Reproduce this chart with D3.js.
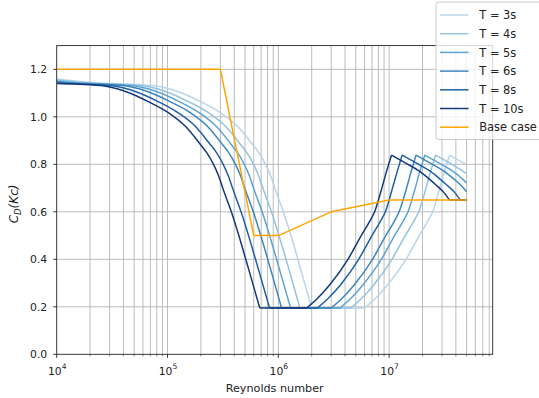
<!DOCTYPE html>
<html>
<head>
<meta charset="utf-8">
<script src="https://cdn.jsdelivr.net/npm/d3@7"></script>
<style>
  body { margin: 0; background: #fff; }
  svg { display: block; font-family: "DejaVu Sans", sans-serif; }
</style>
</head>
<body>
<svg id="chart" width="539" height="398"></svg>
<script>
// Drag coefficient vs Reynolds number for several wave periods
const seriesLabels = ["T = 3s", "T = 4s", "T = 5s", "T = 6s", "T = 8s", "T = 10s", "Base case"];
const seriesColors = ["#b8d5ea", "#93c3e0", "#5ea3d1", "#3b86c0", "#1f5fa5", "#12397a", "#ffa500"];

const reT3 = [1e4, 2.95e4, 4.72e4, 7.97e4, 1.18e5, 2.07e5, 2.95e5, 4.28e5, 5.75e5, 6.64e5, 7.67e5, 8.56e5, 9.3e5, 1.12e6, 1.36e6, 1.62e6, 2.0e6, 6e6, 7.5e6, 9.67e6, 1.42e7, 1.87e7, 2.22e7, 2.47e7, 2.83e7, 3.13e7, 3.52e7, 4.7e7, 5e7];
const cdT3 = [1.158, 1.14, 1.137, 1.13, 1.11, 1.06, 1.02, 0.96, 0.888, 0.85, 0.80, 0.75, 0.70, 0.595, 0.47, 0.345, 0.195, 0.195, 0.235, 0.292, 0.40, 0.50, 0.559, 0.60, 0.692, 0.765, 0.839, 0.806, 0.80];

const reT4 = [1e4, 2.3e4, 3.68e4, 6.21e4, 9.2e4, 1.61e5, 2.3e5, 3.34e5, 4.49e5, 5.18e5, 5.98e5, 6.67e5, 7.25e5, 8.74e5, 1.06e6, 1.27e6, 1.565e6, 4.5e6, 5.63e6, 7.25e6, 1.06e7, 1.4e7, 1.66e7, 1.85e7, 2.13e7, 2.35e7, 2.63e7, 3.5e7, 4.69e7, 5e7];
const cdT4 = [1.155, 1.14, 1.137, 1.13, 1.11, 1.06, 1.02, 0.96, 0.888, 0.85, 0.80, 0.75, 0.70, 0.595, 0.47, 0.345, 0.195, 0.195, 0.235, 0.292, 0.40, 0.50, 0.559, 0.60, 0.692, 0.765, 0.839, 0.806, 0.769, 0.76];

const reT5 = [1e4, 1.9e4, 3.03e4, 5.12e4, 7.59e4, 1.33e5, 1.9e5, 2.75e5, 3.7e5, 4.27e5, 4.93e5, 5.5e5, 5.97e5, 7.21e5, 8.72e5, 1.043e6, 1.29e6, 3.6e6, 4.5e6, 5.8e6, 8.5e6, 1.12e7, 1.33e7, 1.48e7, 1.7e7, 1.88e7, 2.1e7, 2.8e7, 3.8e7, 4.5e7, 5e7];
const cdT5 = [1.15, 1.14, 1.137, 1.13, 1.11, 1.06, 1.02, 0.96, 0.888, 0.85, 0.80, 0.75, 0.70, 0.595, 0.47, 0.345, 0.195, 0.195, 0.235, 0.292, 0.40, 0.50, 0.559, 0.60, 0.692, 0.765, 0.839, 0.806, 0.769, 0.742, 0.722];

const reT6 = [1e4, 1.58e4, 2.52e4, 4.26e4, 6.31e4, 1.1e5, 1.58e5, 2.29e5, 3.08e5, 3.55e5, 4.1e5, 4.58e5, 4.97e5, 6.0e5, 7.26e5, 8.68e5, 1.07e6, 3e6, 3.75e6, 4.83e6, 7.08e6, 9.33e6, 1.11e7, 1.23e7, 1.42e7, 1.57e7, 1.75e7, 2.33e7, 3.17e7, 3.75e7, 4.42e7, 5e7];
const cdT6 = [1.148, 1.14, 1.137, 1.13, 1.11, 1.06, 1.02, 0.96, 0.888, 0.85, 0.80, 0.75, 0.70, 0.595, 0.47, 0.345, 0.195, 0.195, 0.235, 0.292, 0.40, 0.50, 0.559, 0.60, 0.692, 0.765, 0.839, 0.806, 0.769, 0.742, 0.713, 0.685];

const reT8 = [1e4, 1.96e4, 3.31e4, 4.9e4, 8.57e4, 1.22e5, 1.78e5, 2.39e5, 2.76e5, 3.18e5, 3.55e5, 3.86e5, 4.65e5, 5.63e5, 6.74e5, 8.33e5, 2.25e6, 2.81e6, 3.63e6, 5.31e6, 7e6, 8.31e6, 9.25e6, 1.06e7, 1.175e7, 1.31e7, 1.75e7, 2.38e7, 2.81e7, 3.31e7, 3.88e7, 4.38e7, 5e7];
const cdT8 = [1.143, 1.137, 1.13, 1.11, 1.06, 1.02, 0.96, 0.888, 0.85, 0.80, 0.75, 0.70, 0.595, 0.47, 0.345, 0.195, 0.195, 0.235, 0.292, 0.40, 0.50, 0.559, 0.60, 0.692, 0.765, 0.839, 0.806, 0.769, 0.742, 0.713, 0.683, 0.65, 0.65];

const reT10 = [1e4, 1.6e4, 2.7e4, 4e4, 7e4, 1e5, 1.45e5, 1.95e5, 2.25e5, 2.6e5, 2.9e5, 3.15e5, 3.8e5, 4.6e5, 5.5e5, 6.8e5, 1.8e6, 2.25e6, 2.9e6, 4.25e6, 5.6e6, 6.65e6, 7.4e6, 8.5e6, 9.4e6, 1.05e7, 1.4e7, 1.9e7, 2.25e7, 2.65e7, 3.1e7, 3.5e7, 5e7];
const cdT10 = [1.14, 1.137, 1.13, 1.11, 1.06, 1.02, 0.96, 0.888, 0.85, 0.80, 0.75, 0.70, 0.595, 0.47, 0.345, 0.195, 0.195, 0.235, 0.292, 0.40, 0.50, 0.559, 0.60, 0.692, 0.765, 0.839, 0.806, 0.769, 0.742, 0.713, 0.683, 0.65, 0.65];

const reBase = [1e4, 3e5, 6e5, 1e6, 3e6, 1e7, 5e7];
const cdBase = [1.2, 1.2, 0.5, 0.5, 0.6, 0.65, 0.65];

const xMajorTicks = [1e4, 1e5, 1e6, 1e7];
const xTickExponents = ["4", "5", "6", "7"];
const yTicks = [0.0, 0.2, 0.4, 0.6, 0.8, 1.0, 1.2];

const seriesRe = [reT3, reT4, reT5, reT6, reT8, reT10, reBase];
const seriesCd = [cdT3, cdT4, cdT5, cdT6, cdT8, cdT10, cdBase];

// ---- layout ----
const plot = { left: 56.7, right: 492.7, top: 45.6, bottom: 354.3 };
const svg = d3.select("#chart");

const x = d3.scaleLog().domain([1e4, 8.6e7]).range([plot.left, plot.right]);
const y = d3.scaleLinear().domain([0, 1.3]).range([plot.bottom, plot.top]);

svg.append("defs").append("clipPath").attr("id", "plotClip")
  .append("rect")
  .attr("x", plot.left).attr("y", plot.top)
  .attr("width", plot.right - plot.left).attr("height", plot.bottom - plot.top);

// ---- grid ----
const grid = svg.append("g").attr("stroke", "#b4b4b4").attr("stroke-width", 0.9);
const allXTicks = x.ticks().filter(v => v > 1e4 && v < 8.6e7);
grid.selectAll("line.vx").data(allXTicks).join("line")
  .attr("x1", d => x(d)).attr("x2", d => x(d))
  .attr("y1", plot.top).attr("y2", plot.bottom);
grid.selectAll("line.hy").data(yTicks.filter(v => v > 0)).join("line")
  .attr("x1", plot.left).attr("x2", plot.right)
  .attr("y1", d => y(d)).attr("y2", d => y(d));

// ---- curves ----
// Each period curve has sharp corners where it meets the lower plateau,
// where it leaves it, at its peak and where it lands on the tail plateau;
// between those corners the branches are drawn smooth.
const smoothLine = d3.line().x(d => x(d[0])).y(d => y(d[1])).curve(d3.curveMonotoneX);
const straightLine = d3.line().x(d => x(d[0])).y(d => y(d[1]));

function branches(pts) {
  const v = pts.map(p => p[1]);
  const lo = d3.min(v);
  const i0 = v.indexOf(lo), i1 = v.lastIndexOf(lo);
  const iPeak = i1 + d3.maxIndex(v.slice(i1));
  const tail = v.slice(iPeak);
  const iFloor = iPeak + tail.indexOf(d3.min(tail));
  const cuts = Array.from(new Set([0, i0, i1, iPeak, iFloor, pts.length - 1])).sort((a, b) => a - b);
  const out = [];
  for (let k = 0; k < cuts.length - 1; k++) out.push(pts.slice(cuts[k], cuts[k + 1] + 1));
  return out;
}

const curves = svg.append("g").attr("clip-path", "url(#plotClip)")
  .attr("fill", "none").attr("stroke-width", 1.5)
  .attr("stroke-linejoin", "round");
seriesRe.forEach((reArr, i) => {
  const pts = reArr.map((r, j) => [r, seriesCd[i][j]]);
  let d;
  if (i === seriesRe.length - 1) {
    d = straightLine(pts);
  } else {
    d = branches(pts).map(seg => smoothLine(seg)).join("");
  }
  curves.append("path").attr("d", d).attr("stroke", seriesColors[i]);
});

// ---- frame and ticks ----
const frame = svg.append("g").attr("stroke", "#222").attr("stroke-width", 0.9).attr("fill", "none");
frame.append("rect")
  .attr("x", plot.left).attr("y", plot.top)
  .attr("width", plot.right - plot.left).attr("height", plot.bottom - plot.top);

frame.selectAll("line.xmaj").data(xMajorTicks).join("line")
  .attr("x1", d => x(d)).attr("x2", d => x(d))
  .attr("y1", plot.bottom).attr("y2", plot.bottom + 3.5);
frame.selectAll("line.xmin").data(allXTicks.filter(v => !xMajorTicks.includes(v))).join("line")
  .attr("x1", d => x(d)).attr("x2", d => x(d))
  .attr("y1", plot.bottom).attr("y2", plot.bottom + 2)
  .attr("stroke-width", 0.6);
frame.selectAll("line.ytk").data(yTicks).join("line")
  .attr("x1", plot.left - 3.5).attr("x2", plot.left)
  .attr("y1", d => y(d)).attr("y2", d => y(d));

// x tick labels as powers of ten
const xLabels = svg.append("g").attr("fill", "#222");
xMajorTicks.forEach((v, i) => {
  const t = xLabels.append("text")
    .attr("x", x(v) + 0.5).attr("y", 374.5)
    .attr("text-anchor", "middle").attr("font-size", 10.8);
  t.append("tspan").text("10");
  t.append("tspan").attr("font-size", 7.6).attr("dy", -5.2).text(xTickExponents[i]);
});

// y tick labels
svg.append("g").attr("fill", "#222")
  .selectAll("text").data(yTicks).join("text")
  .attr("x", plot.left - 9.5).attr("y", d => y(d))
  .attr("dy", "0.36em")
  .attr("text-anchor", "end").attr("font-size", 10.8)
  .text(d => d.toFixed(1));

// axis titles
svg.append("text")
  .attr("x", (plot.left + plot.right) / 2).attr("y", 391.5)
  .attr("text-anchor", "middle").attr("font-size", 11.2).attr("fill", "#222")
  .text("Reynolds number");

const yTitle = svg.append("text")
  .attr("transform", `translate(18,${(plot.top + plot.bottom) / 2 + 4}) rotate(-90)`)
  .attr("text-anchor", "middle").attr("font-size", 12).attr("fill", "#222")
  .attr("font-style", "italic");
yTitle.append("tspan").text("C");
yTitle.append("tspan").attr("font-size", 8.5).attr("dy", 2.6).text("D");
yTitle.append("tspan").attr("dy", -2.6).text("(Kc)");

// ---- legend ----
const legend = svg.append("g");
legend.append("rect")
  .attr("x", 436).attr("y", 2).attr("width", 130).attr("height", 137.5)
  .attr("rx", 3)
  .attr("fill", "#fff").attr("fill-opacity", 0.8)
  .attr("stroke", "#cccccc").attr("stroke-width", 1);
seriesLabels.forEach((label, i) => {
  const cy = 15 + i * 18.7;
  legend.append("line")
    .attr("x1", 440).attr("x2", 468.5).attr("y1", cy).attr("y2", cy)
    .attr("stroke", seriesColors[i]).attr("stroke-width", 1.5);
  legend.append("text")
    .attr("x", 479.3).attr("y", cy).attr("dy", "0.36em")
    .attr("font-size", 11.4).attr("fill", "#222")
    .text(label);
});
</script>
</body>
</html>
